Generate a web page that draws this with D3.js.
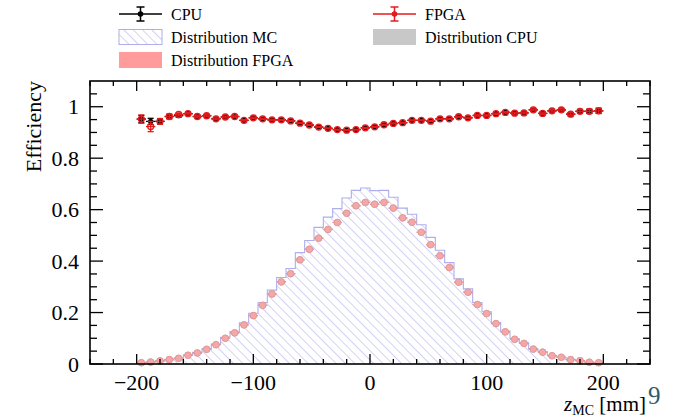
<!DOCTYPE html>
<html><head><meta charset="utf-8">
<script src="https://cdn.jsdelivr.net/npm/d3@7/dist/d3.min.js"></script>
<style>body{margin:0;background:#fff} svg{display:block} text{font-family:"Liberation Serif","DejaVu Serif",serif}</style>
</head><body><svg id="c" width="673" height="417"></svg>
<script>
// ---- data ----
const binLow = -200, binWidth = 8, nBins = 50;
const effCPU = [0.952,0.943,0.943,0.962,0.965,0.973,0.962,0.965,0.953,0.960,
                0.962,0.947,0.957,0.953,0.949,0.949,0.945,0.936,0.929,0.921,
                0.916,0.911,0.909,0.911,0.918,0.922,0.930,0.935,0.938,0.947,
                0.947,0.944,0.953,0.953,0.961,0.957,0.966,0.966,0.973,0.978,
                0.975,0.976,0.988,0.974,0.984,0.988,0.971,0.982,0.982,0.984];
const effFPGA = [0.952,0.923,0.943,0.962,0.970,0.973,0.962,0.965,0.953,0.960,
                0.962,0.947,0.957,0.953,0.949,0.949,0.945,0.936,0.929,0.921,
                0.916,0.911,0.909,0.911,0.918,0.922,0.930,0.935,0.938,0.947,
                0.947,0.944,0.953,0.953,0.961,0.957,0.966,0.966,0.973,0.978,
                0.975,0.976,0.988,0.974,0.984,0.988,0.971,0.982,0.982,0.984];
const errCPU = [0.014,0.012,0.010,0.008,0.006,0.005,0.005,0.004,0.004,0.004,
                0.003,0.003,0.003,0.003,0.003,0.002,0.002,0.002,0.002,0.002,
                0.002,0.002,0.002,0.002,0.002,0.002,0.002,0.002,0.002,0.002,
                0.002,0.002,0.002,0.002,0.002,0.003,0.003,0.003,0.003,0.003,
                0.004,0.004,0.004,0.005,0.005,0.005,0.006,0.007,0.008,0.010];
const errFPGA = [0.016,0.020,0.011,0.009,0.006,0.005,0.005,0.004,0.004,0.004,
                0.003,0.003,0.003,0.003,0.003,0.002,0.002,0.002,0.002,0.002,
                0.002,0.002,0.002,0.002,0.002,0.002,0.002,0.002,0.002,0.002,
                0.002,0.002,0.002,0.002,0.002,0.003,0.003,0.003,0.003,0.003,
                0.004,0.004,0.004,0.005,0.005,0.005,0.006,0.007,0.008,0.010];
const distMC = [0.006,0.008,0.013,0.018,0.023,0.035,0.045,0.059,0.078,0.104,
                0.126,0.160,0.197,0.239,0.287,0.336,0.371,0.433,0.480,0.531,
                0.571,0.604,0.645,0.675,0.684,0.674,0.675,0.648,0.606,0.582,
                0.541,0.492,0.442,0.394,0.331,0.292,0.239,0.203,0.161,0.128,
                0.098,0.082,0.059,0.047,0.033,0.026,0.018,0.013,0.007,0.005];
const distFPGA = [0.005,0.007,0.012,0.017,0.022,0.034,0.043,0.057,0.075,0.100,
                0.121,0.152,0.188,0.228,0.272,0.319,0.351,0.405,0.446,0.489,
                0.523,0.550,0.586,0.615,0.628,0.621,0.628,0.606,0.568,0.551,
                0.512,0.464,0.421,0.375,0.318,0.279,0.231,0.196,0.157,0.125,
                0.096,0.080,0.058,0.046,0.032,0.026,0.017,0.013,0.007,0.005];
const distCPU = [0.005,0.008,0.012,0.017,0.022,0.034,0.043,0.057,0.075,0.100,
                0.121,0.152,0.188,0.228,0.272,0.319,0.351,0.405,0.446,0.489,
                0.523,0.550,0.586,0.615,0.628,0.621,0.628,0.606,0.568,0.551,
                0.512,0.464,0.421,0.375,0.318,0.279,0.231,0.196,0.157,0.125,
                0.096,0.080,0.058,0.046,0.032,0.026,0.017,0.013,0.007,0.005];
const xTicks = [-200,-100,0,100,200];
const xTickLabels = ["\u2212200","\u2212100","0","100","200"];
const yTicks = [0,0.2,0.4,0.6,0.8,1];
const yTickLabels = ["0","0.2","0.4","0.6","0.8","1"];
const legendItems = [
  {label:"CPU", kind:"err", color:"#000"},
  {label:"FPGA", kind:"err", color:"#e41a1c"},
  {label:"Distribution MC", kind:"hatch"},
  {label:"Distribution CPU", kind:"fill", color:"#c8c8c8"},
  {label:"Distribution FPGA", kind:"fill", color:"#ff9b9b"}
];

// ---- drawing ----
const svg = d3.select("#c");
const L = 90, R = 650, T = 81, B = 364;
const x = d3.scaleLinear().domain([-240, 240]).range([L, R]);
const y = d3.scaleLinear().domain([0, 1.1]).range([B, T]);
const hatchCol = "#aeaeec", red = "#e41a1c";

const defs = svg.append("defs");
const pat = defs.append("pattern").attr("id","hatch").attr("patternUnits","userSpaceOnUse")
  .attr("width",6.6).attr("height",6.6).attr("patternTransform","rotate(-45)");
pat.append("line").attr("x1",0).attr("y1",-1).attr("x2",0).attr("y2",8)
  .attr("stroke",hatchCol).attr("stroke-width",1.1);

const bins = d3.range(nBins).map(i => {
  const lo = binLow + i*binWidth;
  return {i, lo, hi: lo+binWidth, c: lo+binWidth/2};
});

// MC histogram step
const pts = [[x(binLow), y(0)]];
bins.forEach(b => { pts.push([x(b.lo), y(distMC[b.i])]); pts.push([x(b.hi), y(distMC[b.i])]); });
pts.push([x(binLow+nBins*binWidth), y(0)]);
svg.append("path").attr("d", d3.line()(pts)).attr("fill","url(#hatch)")
  .attr("stroke",hatchCol).attr("stroke-width",1.1);

// distribution markers
function distMarkers(vals, fill, stroke) {
  const g = svg.append("g");
  g.selectAll("line").data(bins).join("line")
    .attr("x1", b => x(b.lo)).attr("x2", b => x(b.hi))
    .attr("y1", b => y(vals[b.i])).attr("y2", b => y(vals[b.i]))
    .attr("stroke", stroke).attr("stroke-width", 1.2);
  g.selectAll("circle").data(bins).join("circle")
    .attr("cx", b => x(b.c)).attr("cy", b => y(vals[b.i])).attr("r", 3.3)
    .attr("fill", fill).attr("stroke", stroke).attr("stroke-width", 0.8);
}
distMarkers(distCPU, "#c8c8c8", "#b0b0b0");
distMarkers(distFPGA, "#f2a8a8", "#ec9090");

// efficiency points
function effPoints(vals, errs, color, filled, r) {
  const g = svg.append("g").attr("stroke", color).attr("stroke-width", 1.3);
  bins.forEach(b => {
    const v = vals[b.i], e = errs[b.i];
    g.append("line").attr("x1", x(b.lo)).attr("x2", x(b.hi)).attr("y1", y(v)).attr("y2", y(v));
    g.append("line").attr("x1", x(b.c)).attr("x2", x(b.c)).attr("y1", y(v-e)).attr("y2", y(v+e));
    [v-e, v+e].forEach(t => g.append("line").attr("x1", x(b.c)-3).attr("x2", x(b.c)+3).attr("y1", y(t)).attr("y2", y(t)));
    g.append("circle").attr("cx", x(b.c)).attr("cy", y(v)).attr("r", r)
      .attr("fill", filled ? color : "none").attr("stroke-width", filled ? 0 : 1.3);
  });
}
effPoints(effCPU, errCPU, "#000", true, 2.6);
effPoints(effFPGA, errFPGA, red, false, 3.0);

// frame + ticks
const ax = svg.append("g").attr("stroke","#000");
ax.append("rect").attr("x",L).attr("y",T).attr("width",R-L).attr("height",B-T)
  .attr("fill","none").attr("stroke-width",1.6);
const xMinor = d3.range(-240, 241, 20).filter(v => !xTicks.includes(v));
const yMinor = d3.range(0, 1.1, 0.05).map(v => +v.toFixed(2)).filter(v => !yTicks.includes(v));
function xt(vals, len) {
  vals.forEach(v => {
    ax.append("line").attr("x1",x(v)).attr("x2",x(v)).attr("y1",B).attr("y2",B-len).attr("stroke-width",1.3);
    ax.append("line").attr("x1",x(v)).attr("x2",x(v)).attr("y1",T).attr("y2",T+len).attr("stroke-width",1.3);
  });
}
function yt(vals, len) {
  vals.forEach(v => {
    ax.append("line").attr("y1",y(v)).attr("y2",y(v)).attr("x1",L).attr("x2",L+len).attr("stroke-width",1.3);
    ax.append("line").attr("y1",y(v)).attr("y2",y(v)).attr("x1",R).attr("x2",R-len).attr("stroke-width",1.3);
  });
}
xt(xTicks, 10); xt(xMinor, 5);
yt(yTicks, 13); yt(yMinor, 7);

svg.append("g").selectAll("text").data(xTicks).join("text")
  .attr("x", d => x(d)).attr("y", 390).attr("text-anchor","middle")
  .attr("font-size", 22).text((d,i) => xTickLabels[i]);
svg.append("g").selectAll("text").data(yTicks).join("text")
  .attr("x", 79).attr("y", d => y(d)+7.5).attr("text-anchor","end")
  .attr("font-size", 22).text((d,i) => yTickLabels[i]);

svg.append("text").attr("transform",`translate(41,${T}) rotate(-90)`)
  .attr("text-anchor","end").attr("font-size",22).text("Efficiency");

const xl = svg.append("text").attr("x", 646).attr("y", 411).attr("text-anchor","end").attr("font-size",21);
xl.append("tspan").attr("font-style","italic").text("z");
xl.append("tspan").attr("font-size",14).attr("dy",4).text("MC");
xl.append("tspan").attr("dy",-4).text(" [mm]");

svg.append("text").attr("x", 648).attr("y", 404)
  .attr("font-family","DejaVu Sans, sans-serif").attr("font-size",25)
  .attr("fill","#2a5c6c").text("9");

// legend
const legPos = [[119,14],[373,14],[119,37],[373,37],[119,60]];
legendItems.forEach((it, k) => {
  const [lx, ly] = legPos[k];
  const g = svg.append("g");
  if (it.kind === "err") {
    g.append("line").attr("x1",lx).attr("x2",lx+43).attr("y1",ly).attr("y2",ly).attr("stroke",it.color).attr("stroke-width",1.5);
    g.append("line").attr("x1",lx+21.5).attr("x2",lx+21.5).attr("y1",ly-7).attr("y2",ly+7).attr("stroke",it.color).attr("stroke-width",1.5);
    [ly-7, ly+7].forEach(t => g.append("line").attr("x1",lx+17.5).attr("x2",lx+25.5).attr("y1",t).attr("y2",t).attr("stroke",it.color).attr("stroke-width",1.5));
    g.append("circle").attr("cx",lx+21.5).attr("cy",ly).attr("r",2.8).attr("fill",it.color);
  } else if (it.kind === "hatch") {
    g.append("rect").attr("x",lx).attr("y",ly-7.5).attr("width",43).attr("height",15)
      .attr("fill","url(#hatch)").attr("stroke",hatchCol).attr("stroke-width",1);
  } else {
    g.append("rect").attr("x",lx).attr("y",ly-8).attr("width",43).attr("height",16).attr("fill",it.color);
  }
  g.append("text").attr("x", lx+52).attr("y", ly+5.5).attr("font-size",16).text(it.label);
});
</script></body></html>
